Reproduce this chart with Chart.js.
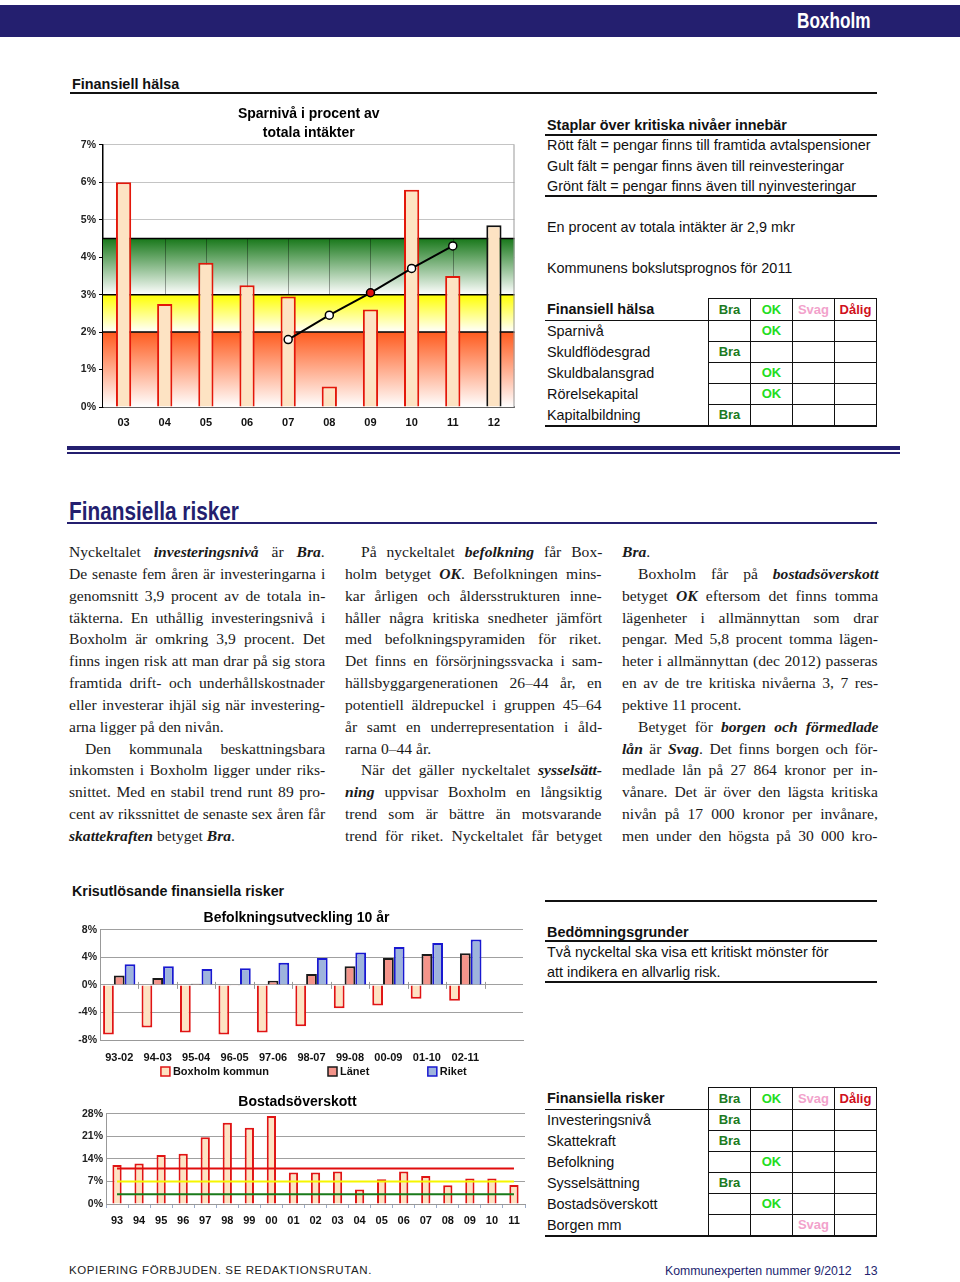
<!DOCTYPE html>
<html>
<head>
<meta charset="utf-8">
<script src="https://cdn.jsdelivr.net/npm/chart.js@4.4.0/dist/chart.umd.min.js"></script>
<style>
body { margin: 0; background: #fff; }
#page { position: relative; width: 960px; height: 1282px; overflow: hidden; font-family: "Liberation Sans", Arial, sans-serif; color: #111; }
.abs { position: absolute; }
.narrow { font-family: "Liberation Sans Narrow", "Liberation Sans", sans-serif; display: inline-block; transform-origin: left center; }
#topbar { left: 0; top: 5px; width: 960px; height: 32px; background: #241f6f; }
#topbar span { position: absolute; left: 797px; top: 3px; color: #fff; font-weight: bold; font-size: 22px; transform: scaleX(0.78); }
.rule { position: absolute; background: #111; }
.navy { background: #241f6f; }
.t14 { font-size: 14.4px; line-height: 20px; white-space: nowrap; }
.bold { font-weight: bold; }
h2 { position: absolute; margin: 0; left: 69px; top: 496px; font-size: 26px; color: #241f6f; font-weight: bold; transform: scaleX(0.8); }
.col { position: absolute; top: 541px; font: 15.6px/21.85px "Liberation Serif", "Times New Roman", serif; color: #1a1a1a; }
.ln { height: 21.85px; white-space: nowrap; }
.ind { padding-left: 16px; }
em { font-style: italic; font-weight: bold; }
table.grade { position: absolute; left: 545px; width: 332px; border-collapse: collapse; font-size: 14.4px; }
table.grade td { padding: 0 0 0 2px; height: 20px; line-height: 18px; }
table.grade td.g { border: 1px solid #111; width: 41px; text-align: center; font-weight: bold; font-size: 13px; padding: 0; }
table.grade tr.head td { height: 21px; }
table.grade tr.head td.l { border-bottom: 1px solid #111; font-weight: bold; }
table.grade tr:last-child td { border-bottom: 2px solid #111; }
.c-Bra { color: #1b7a22; }
.c-OK { color: #22dd22; }
.c-Svag { color: #f2a2cb; }
.c-Dålig { color: #d0101c; }
canvas { position: absolute; }
#foot1 { left: 69px; top: 1264px; font-size: 11.5px; letter-spacing: 0.6px; color: #222; }
#foot2 { left: 665px; top: 1264px; font-size: 12.3px; color: #241f6f; }
#foot3 { left: 864px; top: 1264px; font-size: 12.3px; color: #241f6f; }
</style>
</head>
<body>
<div id="page">
  <div id="topbar" class="abs"><span class="narrow">Boxholm</span></div>

  <div class="abs t14 bold" style="left:72px;top:74px;">Finansiell hälsa</div>
  <div class="rule" style="left:70px;top:92px;width:807px;height:2px;"></div>

  <canvas id="savingChart" width="450" height="335" style="left:70px;top:100px;"></canvas>

  <div class="abs t14 bold" style="left:547px;top:115px;">Staplar över kritiska nivåer innebär</div>
  <div class="rule" style="left:545px;top:134px;width:332px;height:2px;"></div>
  <div class="abs t14" style="left:547px;top:135px;">Rött fält = pengar finns till framtida avtalspensioner</div>
  <div class="abs t14" style="left:547px;top:156px;">Gult fält = pengar finns även till reinvesteringar</div>
  <div class="abs t14" style="left:547px;top:176px;">Grönt fält = pengar finns även till nyinvesteringar</div>
  <div class="rule" style="left:545px;top:195px;width:332px;height:2px;"></div>
  <div class="abs t14" style="left:547px;top:217px;">En procent av totala intäkter är 2,9 mkr</div>
  <div class="abs t14" style="left:547px;top:258px;">Kommunens bokslutsprognos för 2011</div>

  <table class="grade" id="healthTable" style="top:298px;"></table>

  <div class="abs navy" style="left:67px;top:446px;width:833px;height:4px;"></div>
  <div class="abs navy" style="left:67px;top:452px;width:833px;height:1.5px;"></div>

  <h2 class="narrow">Finansiella risker</h2>
  <div class="abs navy" style="left:67px;top:522px;width:810px;height:2px;"></div>

  <div class="col" style="left:69px;width:256px;">
    <div class="ln"><span>Nyckeltalet <em>investeringsnivå</em> är <em>Bra</em>.</span></div>
    <div class="ln"><span>De senaste fem åren är investeringarna i</span></div>
    <div class="ln"><span>genomsnitt 3,9 procent av de totala in-</span></div>
    <div class="ln"><span>täkterna. En uthållig investeringsnivå i</span></div>
    <div class="ln"><span>Boxholm är omkring 3,9 procent. Det</span></div>
    <div class="ln"><span>finns ingen risk att man drar på sig stora</span></div>
    <div class="ln"><span>framtida drift- och underhållskostnader</span></div>
    <div class="ln"><span>eller investerar ihjäl sig när investering-</span></div>
    <div class="ln end"><span>arna ligger på den nivån.</span></div>
    <div class="ln ind"><span>Den kommunala beskattningsbara</span></div>
    <div class="ln"><span>inkomsten i Boxholm ligger under riks-</span></div>
    <div class="ln"><span>snittet. Med en stabil trend runt 89 pro-</span></div>
    <div class="ln"><span>cent av rikssnittet de senaste sex åren får</span></div>
    <div class="ln end"><span><em>skattekraften</em> betyget <em>Bra</em>.</span></div>
  </div>

  <div class="col" style="left:345px;width:257px;">
    <div class="ln ind"><span>På nyckeltalet <em>befolkning</em> får Box-</span></div>
    <div class="ln"><span>holm betyget <em>OK</em>. Befolkningen mins-</span></div>
    <div class="ln"><span>kar årligen och åldersstrukturen inne-</span></div>
    <div class="ln"><span>håller några kritiska snedheter jämfört</span></div>
    <div class="ln"><span>med befolkningspyramiden för riket.</span></div>
    <div class="ln"><span>Det finns en försörjningssvacka i sam-</span></div>
    <div class="ln"><span>hällsbyggargenerationen 26–44 år, en</span></div>
    <div class="ln"><span>potentiell äldrepuckel i gruppen 45–64</span></div>
    <div class="ln"><span>år samt en underrepresentation i åld-</span></div>
    <div class="ln end"><span>rarna 0–44 år.</span></div>
    <div class="ln ind"><span>När det gäller nyckeltalet <em>sysselsätt-</em></span></div>
    <div class="ln"><span><em>ning</em> uppvisar Boxholm en långsiktig</span></div>
    <div class="ln"><span>trend som är bättre än motsvarande</span></div>
    <div class="ln"><span>trend för riket. Nyckeltalet får betyget</span></div>
  </div>

  <div class="col" style="left:622px;width:256px;">
    <div class="ln end"><span><em>Bra</em>.</span></div>
    <div class="ln ind"><span>Boxholm får på <em>bostadsöverskott</em></span></div>
    <div class="ln"><span>betyget <em>OK</em> eftersom det finns tomma</span></div>
    <div class="ln"><span>lägenheter i allmännyttan som drar</span></div>
    <div class="ln"><span>pengar. Med 5,8 procent tomma lägen-</span></div>
    <div class="ln"><span>heter i allmännyttan (dec 2012) passeras</span></div>
    <div class="ln"><span>en av de tre kritiska nivåerna 3, 7 res-</span></div>
    <div class="ln end"><span>pektive 11 procent.</span></div>
    <div class="ln ind"><span>Betyget för <em>borgen och förmedlade</em></span></div>
    <div class="ln"><span><em>lån</em> är <em>Svag</em>. Det finns borgen och för-</span></div>
    <div class="ln"><span>medlade lån på 27 864 kronor per in-</span></div>
    <div class="ln"><span>vånare. Det är över den lägsta kritiska</span></div>
    <div class="ln"><span>nivån på 17 000 kronor per invånare,</span></div>
    <div class="ln"><span>men under den högsta på 30 000 kro-</span></div>
  </div>

  <div class="abs bold" style="left:72px;top:883px;font-size:14.3px;white-space:nowrap;">Krisutlösande finansiella risker</div>
  <div class="rule" style="left:545px;top:900px;width:332px;height:2px;"></div>

  <canvas id="popChart" width="460" height="177" style="left:70px;top:908px;"></canvas>

  <div class="abs t14 bold" style="left:547px;top:922px;">Bedömningsgrunder</div>
  <div class="rule" style="left:545px;top:940px;width:332px;height:2px;"></div>
  <div class="abs t14" style="left:547px;top:942px;">Två nyckeltal ska visa ett kritiskt mönster för</div>
  <div class="abs t14" style="left:547px;top:962px;">att indikera en allvarlig risk.</div>
  <div class="rule" style="left:545px;top:981px;width:332px;height:2px;"></div>

  <canvas id="housingChart" width="460" height="138" style="left:70px;top:1092px;"></canvas>

  <table class="grade" id="riskTable" style="top:1087px;"></table>

  <div id="foot1" class="abs">KOPIERING FÖRBJUDEN. SE REDAKTIONSRUTAN.</div>
  <div id="foot2" class="abs">Kommunexperten nummer 9/2012</div>
  <div id="foot3" class="abs">13</div>
</div>

<script>
// Sparnivå i procent av totala intäkter
const savingYears = ['03', '04', '05', '06', '07', '08', '09', '10', '11', '12'];
const savingRate = [6.0, 2.75, 3.85, 3.25, 2.95, 0.55, 2.6, 5.8, 3.5, 4.85];
const savingTrend = [null, null, null, null, 1.8, 2.45, 3.05, 3.7, 4.3, null];
const trendHighlight = '09';
const prognosisYear = '12';
const zoneLimits = [0, 2, 3, 4.5];
const zoneColors = ['#ff5b1e', '#ffff00', '#18781a'];

// Befolkningsutveckling 10 år
const popPeriods = ['93-02', '94-03', '95-04', '96-05', '97-06', '98-07', '99-08', '00-09', '01-10', '02-11', ''];
const popSeriesNames = ['Boxholm kommun', 'Länet', 'Riket'];
const popBoxholm = [-7.2, -6.2, -6.9, -7.2, -6.9, -6.0, -3.4, -3.0, -2.0, -2.3];
const popLanet = [1.35, 1.0, 0.15, -0.05, 0.6, 1.6, 2.7, 3.9, 4.5, 4.6];
const popRiket = [3.0, 2.7, 2.3, 2.4, 3.2, 3.9, 4.7, 5.5, 6.1, 6.6];

// Bostadsöverskott
const housingYears = ['93', '94', '95', '96', '97', '98', '99', '00', '01', '02', '03', '04', '05', '06', '07', '08', '09', '10', '11'];
const housingSurplus = [12.1, 12.6, 15.2, 15.6, 20.7, 25.2, 23.7, 27.3, 9.8, 9.8, 10.1, 4.5, 7.7, 10.1, 8.7, 5.8, 7.9, 7.9, 5.9];
const housingLevels = [11, 7, 3];
const housingLevelColors = ['#e00d0d', '#f6f600', '#1a7a1a'];

// Betygstabeller
const gradeNames = ['Bra', 'OK', 'Svag', 'Dålig'];
const healthKeys = ['Sparnivå', 'Skuldflödesgrad', 'Skuldbalansgrad', 'Rörelsekapital', 'Kapitalbildning'];
const healthGrades = ['OK', 'Bra', 'OK', 'OK', 'Bra'];
const riskKeys = ['Investeringsnivå', 'Skattekraft', 'Befolkning', 'Sysselsättning', 'Bostadsöverskott', 'Borgen mm'];
const riskGrades = ['Bra', 'Bra', 'OK', 'Bra', 'OK', 'Svag'];

function buildTable(id, title, keys, grades) {
    const t = document.getElementById(id);
    let html = '<tr class="head"><td class="l">' + title + '</td>';
    gradeNames.forEach(g => { html += '<td class="g c-' + g + '">' + g + '</td>'; });
    html += '</tr>';
    keys.forEach((k, i) => {
        html += '<tr><td class="l">' + k + '</td>';
        gradeNames.forEach(g => {
            html += '<td class="g c-' + g + '">' + (grades[i] === g ? g : '') + '</td>';
        });
        html += '</tr>';
    });
    t.innerHTML = html;
}
buildTable('healthTable', 'Finansiell hälsa', healthKeys, healthGrades);
buildTable('riskTable', 'Finansiella risker', riskKeys, riskGrades);

// manuell marginaljustering rad för rad
document.querySelectorAll('.ln').forEach(ln => {
    if (ln.classList.contains('end')) return;
    const span = ln.querySelector('span');
    const avail = ln.clientWidth - parseFloat(getComputedStyle(ln).paddingLeft);
    const gaps = span.textContent.trim().split(/\s+/).length - 1;
    if (gaps > 0) span.style.wordSpacing = ((avail - span.offsetWidth) / gaps) + 'px';
});

Chart.defaults.font.family = '"Liberation Sans", Arial, sans-serif';
Chart.defaults.color = '#111';
Chart.defaults.animation = false;
Chart.defaults.plugins.legend.display = false;
Chart.defaults.plugins.tooltip.enabled = false;

const pct = v => v + '%';
const tickFont = { size: 10.5, weight: 'bold' };
const labelFont = { size: 11, weight: 'bold' };

// färgfälten bakom staplarna
const zonePlugin = {
    id: 'zones',
    beforeDatasetsDraw(chart, args, opts) {
        const { ctx, chartArea: a, scales: { x, y } } = chart;
        ctx.save();
        for (let i = 0; i < opts.colors.length; i++) {
            const top = y.getPixelForValue(opts.limits[i + 1]);
            const bot = y.getPixelForValue(opts.limits[i]);
            const g = ctx.createLinearGradient(0, top, 0, bot);
            g.addColorStop(0, opts.colors[i]);
            g.addColorStop(1, '#ffffff');
            ctx.fillStyle = g;
            ctx.fillRect(a.left, top, a.right - a.left, bot - top);
        }
        // lodräta linjer i gröna fältet
        const gTop = y.getPixelForValue(opts.limits[3]);
        const gBot = y.getPixelForValue(opts.limits[2]);
        ctx.strokeStyle = 'rgba(0,0,0,0.35)';
        ctx.lineWidth = 1;
        chart.data.labels.forEach((l, i) => {
            const px = Math.round(x.getPixelForValue(i)) + 0.5;
            ctx.beginPath(); ctx.moveTo(px, gTop); ctx.lineTo(px, gBot); ctx.stroke();
        });
        ctx.strokeStyle = '#000';
        ctx.lineWidth = 1.5;
        opts.limits.slice(1).forEach(v => {
            const py = y.getPixelForValue(v);
            ctx.beginPath(); ctx.moveTo(a.left, py); ctx.lineTo(a.right, py); ctx.stroke();
        });
        ctx.strokeStyle = '#999';
        ctx.lineWidth = 1;
        ctx.beginPath(); ctx.moveTo(a.right - 0.5, a.top); ctx.lineTo(a.right - 0.5, a.bottom); ctx.stroke();
        ctx.restore();
    }
};

new Chart(document.getElementById('savingChart'), {
    data: {
        labels: savingYears,
        datasets: [
            {
                type: 'line',
                data: savingTrend,
                borderColor: '#000',
                borderWidth: 2,
                pointRadius: 4,
                pointBorderWidth: 1.5,
                pointBorderColor: '#000',
                pointBackgroundColor: savingYears.map(y => y === trendHighlight ? '#e01010' : '#fff'),
                order: 0
            },
            {
                type: 'bar',
                data: savingRate,
                backgroundColor: '#fde3c3',
                borderColor: savingYears.map(y => y === prognosisYear ? '#111' : '#e3170a'),
                borderWidth: 2,
                barPercentage: 0.37,
                categoryPercentage: 1,
                order: 1
            }
        ]
    },
    options: {
        responsive: false,
        layout: { padding: { right: 5 } },
        plugins: {
            title: {
                display: true,
                text: ['Sparnivå i procent av', 'totala intäkter'],
                font: { size: 14, weight: 'bold', lineHeight: 1.35 },
                color: '#000',
                padding: { top: 5, bottom: 2 },
                fullSize: false
            },
            zones: { limits: zoneLimits, colors: zoneColors }
        },
        scales: {
            x: {
                grid: { display: false, drawTicks: false },
                border: { color: '#000', width: 1.5 },
                ticks: { font: labelFont, color: '#111', padding: 9 },
                afterFit: s => { s.height = 28; }
            },
            y: {
                min: 0, max: 7,
                ticks: { stepSize: 1, callback: pct, font: tickFont, color: '#222', padding: 3 },
                grid: { color: '#c4c4c4', tickColor: '#000', tickLength: 4 },
                border: { color: '#000', width: 1.5 },
                afterFit: s => { s.width = 33; }
            }
        }
    },
    plugins: [zonePlugin]
});

// streck på nollinjen och egen förklaring
const popExtras = {
    id: 'popExtras',
    afterDatasetsDraw(chart, args, opts) {
        const { ctx, chartArea: a, scales: { x, y } } = chart;
        const y0 = y.getPixelForValue(0);
        ctx.save();
        ctx.strokeStyle = '#999';
        ctx.lineWidth = 1;
        for (let k = 1; k < chart.data.labels.length; k++) {
            const px = Math.round((x.getPixelForValue(k - 1) + x.getPixelForValue(k)) / 2) + 0.5;
            ctx.beginPath(); ctx.moveTo(px, y0 - 3); ctx.lineTo(px, y0 + 4); ctx.stroke();
        }
        ctx.font = 'bold 11px "Liberation Sans", Arial, sans-serif';
        ctx.textBaseline = 'middle';
        const ly = a.bottom + opts.offset;
        chart.data.datasets.forEach((ds, i) => {
            const lx = a.left + opts.at[i] * (a.right - a.left);
            ctx.fillStyle = ds.backgroundColor;
            ctx.fillRect(lx, ly - 5, 9, 9);
            ctx.strokeStyle = ds.borderColor;
            ctx.lineWidth = 1.5;
            ctx.strokeRect(lx, ly - 5, 9, 9);
            ctx.fillStyle = '#111';
            ctx.fillText(ds.label, lx + 12, ly);
        });
        ctx.restore();
    }
};

new Chart(document.getElementById('popChart'), {
    type: 'bar',
    data: {
        labels: popPeriods,
        datasets: [
            { label: popSeriesNames[0], data: popBoxholm, backgroundColor: '#fde3c3', borderColor: '#e01414', borderWidth: 2 },
            { label: popSeriesNames[1], data: popLanet, backgroundColor: '#f4948a', borderColor: '#1a1a1a', borderWidth: 2 },
            { label: popSeriesNames[2], data: popRiket, backgroundColor: '#9eb4dc', borderColor: '#1818d0', borderWidth: 2 }
        ]
    },
    options: {
        responsive: false,
        datasets: { bar: { barPercentage: 1, categoryPercentage: 0.84 } },
        layout: { padding: { right: 7, bottom: 21 } },
        plugins: {
            title: {
                display: true,
                text: 'Befolkningsutveckling 10 år',
                font: { size: 14, weight: 'bold' },
                color: '#000',
                padding: { top: 2, bottom: 3 }
            },
            popExtras: { at: [0.144, 0.539, 0.775], offset: 32 }
        },
        scales: {
            x: {
                grid: { display: false, drawTicks: false },
                border: { color: '#999' },
                ticks: { font: labelFont, color: '#111', padding: 11, maxRotation: 0, minRotation: 0, autoSkip: false },
                afterFit: s => { s.height = 24; }
            },
            y: {
                min: -8, max: 8,
                ticks: { stepSize: 4, callback: pct, font: tickFont, color: '#222', padding: 3 },
                grid: { color: '#a0a0a0', drawTicks: false },
                border: { color: '#999' },
                afterFit: s => { s.width = 30; }
            }
        }
    },
    plugins: [popExtras]
});

// kritiska nivåer 3, 7 och 11 procent
const levelPlugin = {
    id: 'levels',
    afterDatasetsDraw(chart, args, opts) {
        const { ctx, scales: { x, y } } = chart;
        const x0 = x.getPixelForValue(0);
        const x1 = x.getPixelForValue(chart.data.labels.length - 1);
        ctx.save();
        ctx.lineWidth = 2;
        opts.levels.forEach((v, i) => {
            const py = y.getPixelForValue(v);
            ctx.strokeStyle = opts.colors[i];
            ctx.beginPath(); ctx.moveTo(x0, py); ctx.lineTo(x1, py); ctx.stroke();
        });
        ctx.restore();
    }
};

new Chart(document.getElementById('housingChart'), {
    type: 'bar',
    data: {
        labels: housingYears,
        datasets: [
            { data: housingSurplus, backgroundColor: '#fde3c3', borderColor: '#e01414', borderWidth: 2, barPercentage: 0.42, categoryPercentage: 1 }
        ]
    },
    options: {
        responsive: false,
        layout: { padding: { right: 5 } },
        plugins: {
            title: {
                display: true,
                text: 'Bostadsöverskott',
                font: { size: 14, weight: 'bold' },
                color: '#000',
                padding: { top: 2, bottom: 3 }
            },
            levels: { levels: housingLevels, colors: housingLevelColors }
        },
        scales: {
            x: {
                grid: { drawOnChartArea: false, color: '#9aaac8', tickLength: 4 },
                border: { color: '#999' },
                ticks: { font: labelFont, color: '#111', padding: 6, maxRotation: 0, autoSkip: false },
                afterFit: s => { s.height = 26; }
            },
            y: {
                min: 0, max: 28,
                ticks: { stepSize: 7, callback: pct, font: tickFont, color: '#222', padding: 3 },
                grid: { color: '#a0a0a0', drawTicks: false },
                border: { color: '#999' },
                afterFit: s => { s.width = 36; }
            }
        }
    },
    plugins: [levelPlugin]
});
</script>
</body>
</html>
